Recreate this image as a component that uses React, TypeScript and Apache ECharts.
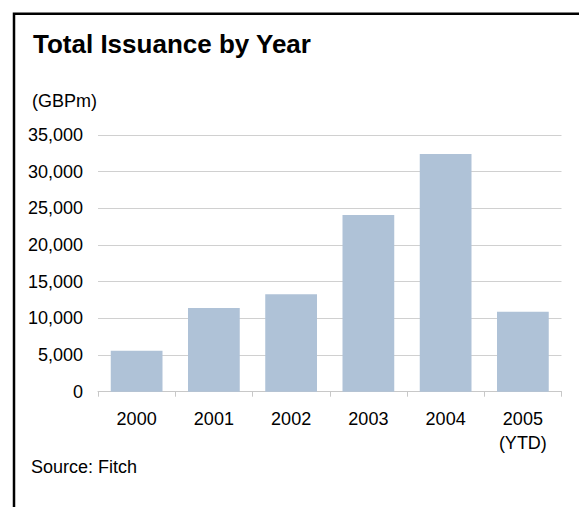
import React, { useEffect, useRef } from "react";
import * as echarts from "echarts";

const categories = ["2000", "2001", "2002", "2003", "2004", "2005\n(YTD)"];
const issuance = [5600, 11400, 13300, 24100, 32400, 10900];
const yTicks = [0, 5000, 10000, 15000, 20000, 25000, 30000, 35000];

const FONT = "'Liberation Sans', Arial, sans-serif";

export default function App() {
  const ref = useRef<HTMLDivElement>(null);
  useEffect(() => {
    if (!ref.current) return;
    const chart = echarts.init(ref.current, undefined, { renderer: "svg" });
    chart.setOption({
      animation: false,
      backgroundColor: "#ffffff",
      grid: { left: 98, right: 17.5, top: 135, bottom: 115.3, containLabel: false },
      xAxis: {
        type: "category",
        data: categories,
        axisLine: { show: true, lineStyle: { color: "#c8c8c8", width: 1 } },
        axisTick: { show: true, length: 5, alignWithLabel: false, lineStyle: { color: "#c8c8c8" } },
        axisLabel: {
          color: "#000",
          fontSize: 18,
          fontFamily: FONT,
          lineHeight: 24,
          margin: 15,
          interval: 0,
        },
      },
      yAxis: {
        type: "value",
        min: yTicks[0],
        max: yTicks[yTicks.length - 1],
        interval: 5000,
        axisLine: { show: false },
        axisTick: { show: false },
        splitLine: { lineStyle: { color: "#d0d0d0", width: 1 } },
        axisLabel: {
          color: "#000",
          fontSize: 18,
          fontFamily: FONT,
          margin: 15,
          formatter: (v: number) => v.toLocaleString("en-US"),
        },
      },
      series: [
        {
          type: "bar",
          data: issuance,
          barCategoryGap: "33%",
          itemStyle: { color: "#afc2d7" },
        },
      ],
      graphic: [
        {
          type: "polyline",
          shape: { points: [[14, 507], [14, 13.7], [579, 13.7]] },
          style: { stroke: "#000", lineWidth: 2.5, fill: "none" },
          silent: true,
        },
        {
          type: "text",
          x: 33,
          y: 44,
          style: {
            text: "Total Issuance by Year",
            font: `bold 26px ${FONT}`,
            fill: "#000",
            verticalAlign: "middle",
          },
        },
        {
          type: "text",
          x: 32,
          y: 101,
          style: {
            text: "(GBPm)",
            font: `18px ${FONT}`,
            fill: "#000",
            verticalAlign: "middle",
          },
        },
        {
          type: "text",
          x: 31,
          y: 466.5,
          style: {
            text: "Source: Fitch",
            font: `18px ${FONT}`,
            fill: "#000",
            verticalAlign: "middle",
          },
        },
      ],
    });
    return () => chart.dispose();
  }, []);
  return (
    <div
      ref={ref}
      style={{ position: "fixed", left: 0, top: 0, width: 579, height: 507 }}
    />
  );
}
